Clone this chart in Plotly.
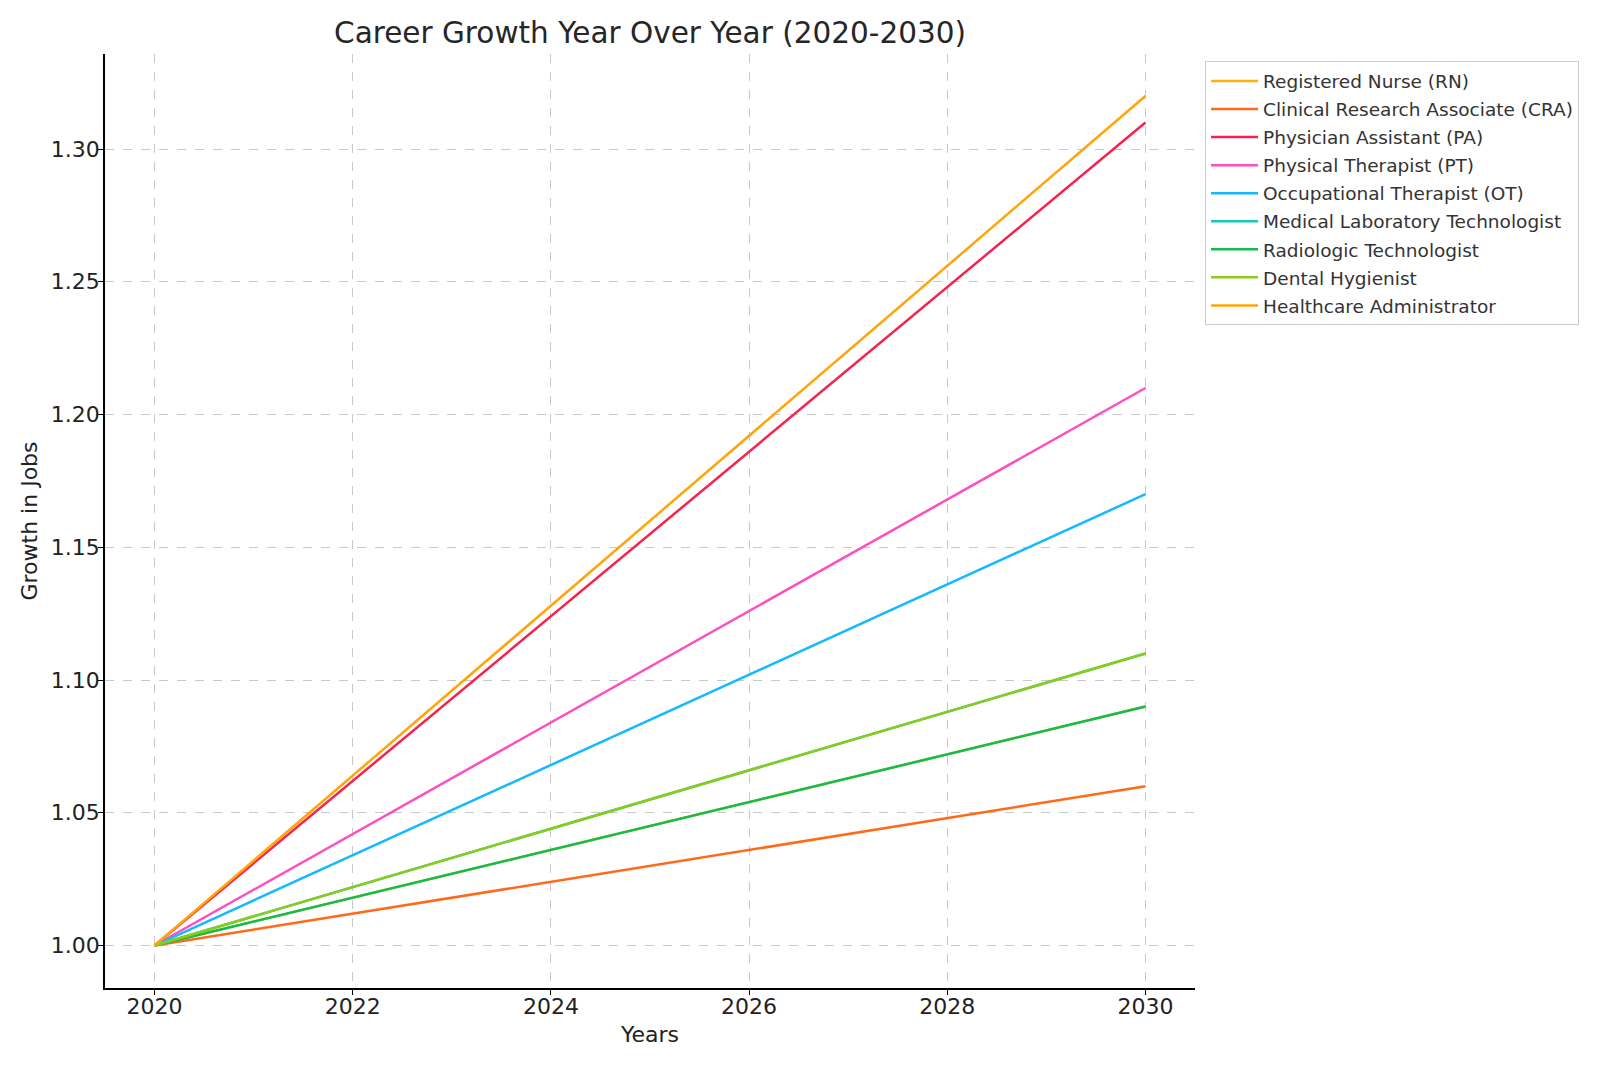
import plotly.graph_objects as go

years = [2020, 2030]
careers = [
    "Registered Nurse (RN)",
    "Clinical Research Associate (CRA)",
    "Physician Assistant (PA)",
    "Physical Therapist (PT)",
    "Occupational Therapist (OT)",
    "Medical Laboratory Technologist",
    "Radiologic Technologist",
    "Dental Hygienist",
    "Healthcare Administrator",
]
growth_start = [1.00, 1.00, 1.00, 1.00, 1.00, 1.00, 1.00, 1.00, 1.00]
growth_end = [1.09, 1.06, 1.31, 1.21, 1.17, 1.11, 1.09, 1.11, 1.32]
colors = ["#FFB00F", "#FF6A1A", "#F5234F", "#FF4DC2", "#14B9FF",
          "#14C8C0", "#10BF4B", "#8CCB1A", "#FFA50A"]

fig = go.Figure()
for name, s, e, c in zip(careers, growth_start, growth_end, colors):
    fig.add_trace(go.Scatter(x=years, y=[s, e], mode="lines", name=name,
                             legendgroup=name,
                             line=dict(color=c, width=2.5)))

font_family = "DejaVu Sans"
L, R, T, B = 97, 413, 46, 86
fig.update_layout(
    width=1600, height=1066,
    paper_bgcolor="white", plot_bgcolor="white",
    margin=dict(l=L, r=R, t=T, b=B, autoexpand=False),
    font=dict(family=font_family, color="#222222"),
    title=dict(text="Career Growth Year Over Year (2020-2030)",
               x=(L + (1600 - L - R) / 2) / 1600, xanchor="center", y=1 - 25 / 1066, yanchor="middle",
               font=dict(size=29.5, family=font_family, color="#262626")),
    legend=dict(x=1.0092, y=0.992, xanchor="left", yanchor="top",
                bordercolor="#cccccc", borderwidth=1, bgcolor="white",
                font=dict(size=18.5, family=font_family, color="#333333"),
                tracegroupgap=1, itemwidth=47),
    showlegend=True,
)
fig.update_xaxes(
    range=[2019.5, 2030.5], tickvals=[2020, 2022, 2024, 2026, 2028, 2030],
    ticktext=["2020", "2022", "2024", "2026", "2028", "2030"],
    showgrid=True, gridcolor="#c8c8c8", griddash="dash", gridwidth=1,
    showline=True, linecolor="black", linewidth=1.5, mirror=False,
    ticks="outside", ticklen=5, tickcolor="black", tickwidth=1.2,
    ticklabelstandoff=-7, automargin=False,
    tickfont=dict(size=22, family=font_family, color="#222222"),
    title=dict(text="Years", font=dict(size=22, family=font_family, color="#222222"), standoff=8),
    zeroline=False,
)
fig.update_yaxes(
    range=[0.984, 1.3358], tickvals=[1.00, 1.05, 1.10, 1.15, 1.20, 1.25, 1.30],
    ticktext=["1.00", "1.05", "1.10", "1.15", "1.20", "1.25", "1.30"],
    showgrid=True, gridcolor="#c8c8c8", griddash="dash", gridwidth=1,
    showline=True, linecolor="black", linewidth=1.5, mirror=False,
    ticks="outside", ticklen=5, tickcolor="black", tickwidth=1.2,
    ticklabelstandoff=-6, automargin=False,
    tickfont=dict(size=22, family=font_family, color="#222222"),
    title=dict(text="Growth in Jobs", font=dict(size=22, family=font_family, color="#222222"), standoff=7),
    zeroline=False,
)
fig.write_html("out.html")
